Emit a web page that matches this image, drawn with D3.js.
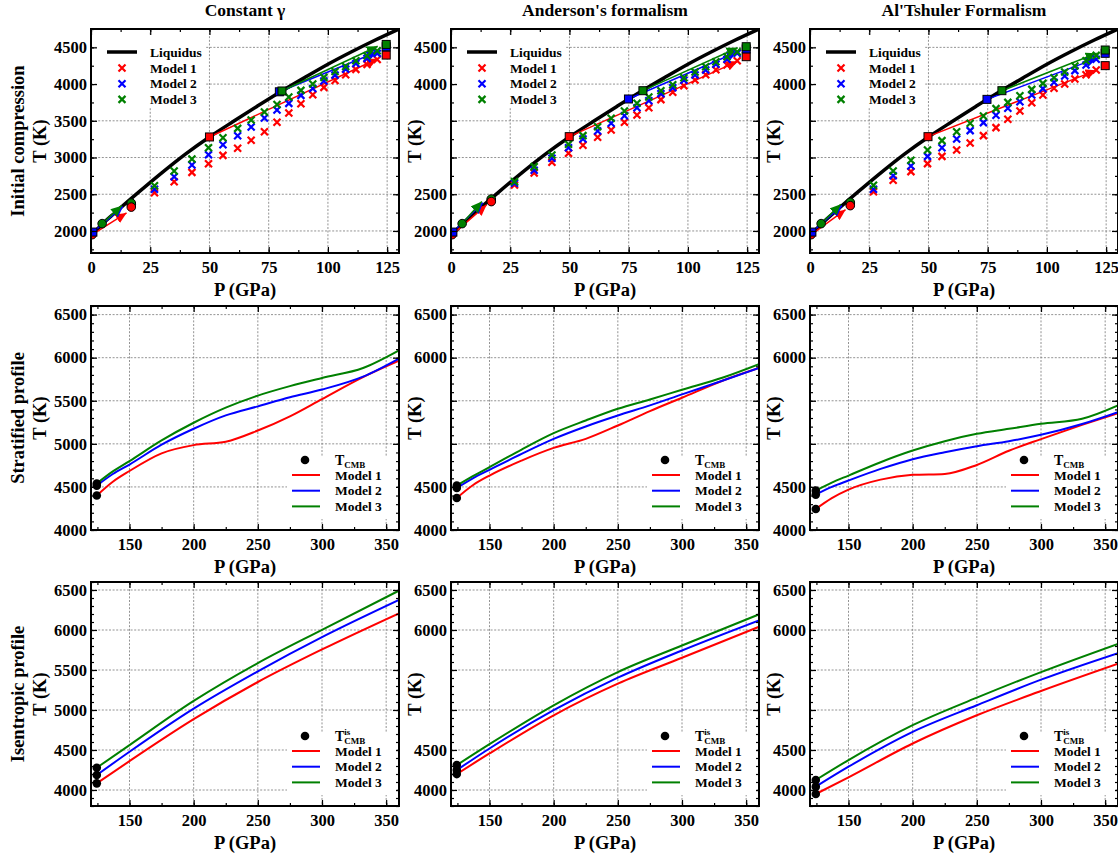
<!DOCTYPE html>
<html>
<head>
<meta charset="utf-8">
<script src="https://cdn.jsdelivr.net/npm/d3@7"></script>
<style>
  body { margin: 0; background: #fff; }
  svg, svg text { font-family: "Liberation Serif", "Times New Roman", serif; font-weight: bold; }
  svg text { fill: #000; }
</style>
</head>
<body>
<svg id="chart" width="1118" height="859" font-family="Liberation Serif"></svg>
<script>
// ---- data ----
const colTitles = ['Constant γ', "Anderson's formalism", "Al'Tshuler Formalism"];
const rowNames = ['Initial compression', 'Stratified profile', 'Isentropic profile'];
const modelNames = ['Model 1', 'Model 2', 'Model 3'];
const modelColors = ['#ff0000', '#0000ff', '#008000'];

const xTicksTop = [0, 25, 50, 75, 100, 125];
const xTicksLow = [150, 200, 250, 300, 350];
const yTicksTop = [2000, 2500, 3000, 3500, 4000, 4500];
const yTicksLow = [4000, 4500, 5000, 5500, 6000, 6500];
const yShownTop = [2000, 2500, 4000, 4500];
const yShownLow = [4000, 4500, 6000, 6500];

// liquidus (same in every column)
const liquidusP = [0, 5, 10, 20, 30, 40, 50, 60, 70, 80, 90, 100, 110, 120, 130];
const liquidusT = [1930, 2100, 2245, 2525, 2795, 3050, 3280, 3490, 3695, 3895, 4085, 4270, 4440, 4600, 4750];

// x markers of the compression runs
const crossP = [26.8, 35.1, 42.6, 49.6, 55.7, 61.9, 67.6, 73.2, 78.5, 83.5, 88.6, 93.6, 98.3, 103, 107.5, 111.8, 116.5, 120.8];
const crossConst = [
  [2521, 2671, 2798, 2916, 3029, 3125, 3234, 3351, 3479, 3605, 3732, 3855, 3955, 4050, 4127, 4200, 4268, 4336],
  [2567, 2739, 2898, 3038, 3174, 3297, 3415, 3537, 3646, 3737, 3846, 3941, 4041, 4122, 4204, 4281, 4350, 4418],
  [2617, 2816, 2980, 3134, 3270, 3397, 3510, 3619, 3723, 3823, 3914, 4000, 4091, 4172, 4240, 4317, 4385, 4453]
];
const crossAnderson = [
  [2626, 2790, 2935, 3057, 3166, 3275, 3375, 3479, 3579, 3679, 3788, 3888, 3978, 4056, 4128, 4196, 4260, 4319],
  [2649, 2826, 2989, 3134, 3252, 3361, 3466, 3570, 3679, 3774, 3870, 3951, 4051, 4124, 4192, 4269, 4337, 4419],
  [2672, 2876, 3035, 3180, 3298, 3420, 3534, 3633, 3738, 3824, 3910, 3992, 4087, 4164, 4237, 4305, 4373, 4441]
];
const crossAltshuler = [
  [2535, 2690, 2808, 2917, 3016, 3103, 3198, 3298, 3407, 3520, 3634, 3747, 3851, 3942, 4001, 4069, 4128, 4192],
  [2567, 2753, 2885, 3016, 3134, 3252, 3366, 3475, 3575, 3670, 3760, 3851, 3938, 4024, 4110, 4183, 4260, 4337],
  [2622, 2817, 2962, 3103, 3230, 3352, 3466, 3566, 3666, 3751, 3842, 3928, 4010, 4087, 4164, 4246, 4319, 4391]
];

// start points (per model) and arrows
const startP = [0.5, 0.8, 4.7];
const startT = [1950, 1985, 2100];
const tip1P = [15, 13.5, 13];
const tip1T = [[2245, 2330, 2345], [2355, 2385, 2400], [2290, 2345, 2365]];
const midP = 17;
const midT = [[2325, 2360, 2380], [2400, 2420, 2435], [2345, 2370, 2390]];
const liqSqP = [[50, 79.5, 80.6], [49.9, 74.9, 81], [49.8, 74.7, 81]];
const liqSqT = [[3280, 3895, 3906], [3284, 3797, 3910], [3284, 3792, 3910]];
const tip2P = 121;
const tip2T = [[4345, 4440, 4515], [4310, 4440, 4495], [4190, 4350, 4420]];
const finalP = 124.6;
const finalT = [[4395, 4508, 4540], [4373, 4478, 4509], [4251, 4419, 4464]];

// stratified profiles
const strP = [124.5, 137, 150, 175, 200, 225, 250, 275, 300, 332, 360];
const strConst = [
  [4400, 4560, 4685, 4890, 4985, 5025, 5155, 5320, 5520, 5775, 5965],
  [4515, 4650, 4760, 4990, 5175, 5330, 5435, 5540, 5630, 5780, 5990],
  [4540, 4680, 4800, 5040, 5245, 5420, 5560, 5670, 5765, 5880, 6085]
];
const strAnderson = [
  [4372, 4520, 4632, 4806, 4953, 5058, 5213, 5380, 5535, 5735, 5880],
  [4488, 4600, 4698, 4884, 5058, 5202, 5329, 5446, 5574, 5735, 5880],
  [4515, 4625, 4729, 4934, 5124, 5271, 5407, 5515, 5628, 5770, 5925]
];
const strAltshuler = [
  [4244, 4370, 4469, 4585, 4640, 4651, 4755, 4920, 5055, 5220, 5357],
  [4411, 4500, 4574, 4709, 4822, 4903, 4973, 5031, 5105, 5230, 5368],
  [4457, 4550, 4632, 4787, 4922, 5031, 5116, 5174, 5233, 5291, 5446]
];

// isentropic profiles
const isenP = [124.5, 150, 200, 250, 300, 360];
const isenConst = [
  [4083, 4361, 4885, 5350, 5757, 6209],
  [4187, 4478, 5017, 5483, 5910, 6375],
  [4278, 4561, 5113, 5586, 6002, 6492]
];
const isenAnderson = [
  [4199, 4457, 4934, 5329, 5653, 6040],
  [4249, 4519, 4997, 5404, 5744, 6120],
  [4311, 4573, 5059, 5474, 5806, 6195]
];
const isenAltshuler = [
  [3950, 4158, 4581, 4934, 5237, 5578],
  [4042, 4291, 4727, 5059, 5379, 5711],
  [4125, 4374, 4810, 5154, 5474, 5827]
];

const crossByCol = [crossConst, crossAnderson, crossAltshuler];
const strByCol = [strConst, strAnderson, strAltshuler];
const isenByCol = [isenConst, isenAnderson, isenAltshuler];

// ---- layout ----
const svg = d3.select('#chart');
const colLeft = [91, 451, 810];
const rowTop = [29, 306, 582];
const pw = 308;
const ph = 224;

const rowSpecs = [
  { xDom: [0, 130], yDom: [1700, 4750], xt: xTicksTop, yt: yTicksTop, shown: yShownTop,
    xm: d3.range(0, 131, 12.5), ym: d3.range(1750, 4751, 250) },
  { xDom: [120, 360], yDom: [4000, 6600], xt: xTicksLow, yt: yTicksLow, shown: yShownLow,
    xm: d3.range(125, 360, 25), ym: d3.range(4000, 6601, 100) },
  { xDom: [120, 360], yDom: [3800, 6600], xt: xTicksLow, yt: yTicksLow, shown: yShownLow,
    xm: d3.range(125, 360, 25), ym: d3.range(3800, 6601, 100) }
];

// arrow heads
const defs = svg.append('defs');
modelColors.forEach((c, i) => {
  defs.append('marker')
    .attr('id', `head${i}`)
    .attr('markerUnits', 'userSpaceOnUse')
    .attr('viewBox', '-11 -5 11 10')
    .attr('markerWidth', 11)
    .attr('markerHeight', 10)
    .attr('refX', 0)
    .attr('refY', 0)
    .attr('orient', 'auto')
    .append('path')
    .attr('d', 'M0,0L-11,-5L-11,5Z')
    .attr('fill', c);
});

const crossPath = 'M-3.5,-3.5L3.5,3.5M-3.5,3.5L3.5,-3.5';

const styleAxis = (sel, size) => {
  sel.select('.domain').remove();
  sel.selectAll('line').attr('stroke', '#000').attr('stroke-width', 1.2);
  sel.attr('font-size', size).attr('font-family', 'Liberation Serif');
};

const drawPanel = (row, col) => {
  const spec = rowSpecs[row];
  const g = svg.append('g').attr('transform', `translate(${colLeft[col]},${rowTop[row]})`);
  const x = d3.scaleLinear().domain(spec.xDom).range([0, pw]);
  const y = d3.scaleLinear().domain(spec.yDom).range([ph, 0]);

  defs.append('clipPath').attr('id', `clip${row}${col}`)
    .append('rect').attr('width', pw).attr('height', ph);

  // grid
  const grid = g.append('g').attr('stroke', '#777').attr('stroke-width', 0.8).attr('stroke-dasharray', '2,1.6');
  spec.xt.forEach((v) => grid.append('line').attr('x1', x(v)).attr('x2', x(v)).attr('y1', 0).attr('y2', ph));
  spec.yt.forEach((v) => grid.append('line').attr('y1', y(v)).attr('y2', y(v)).attr('x1', 0).attr('x2', pw));

  const plot = g.append('g').attr('clip-path', `url(#clip${row}${col})`);

  if (row === 0) {
    const line = d3.line().x((d) => x(d[0])).y((d) => y(d[1])).curve(d3.curveMonotoneX);
    plot.append('path')
      .attr('d', line(liquidusP.map((p, i) => [p, liquidusT[i]])))
      .attr('fill', 'none').attr('stroke', '#000').attr('stroke-width', 3.5);

    // arrows
    modelColors.forEach((c, m) => {
      plot.append('line')
        .attr('x1', x(startP[m])).attr('y1', y(startT[m]))
        .attr('x2', x(tip1P[m])).attr('y2', y(tip1T[col][m]))
        .attr('stroke', c).attr('stroke-width', 1.5)
        .attr('marker-end', `url(#head${m})`);
      plot.append('line')
        .attr('x1', x(liqSqP[col][m])).attr('y1', y(liqSqT[col][m]))
        .attr('x2', x(tip2P)).attr('y2', y(tip2T[col][m]))
        .attr('stroke', c).attr('stroke-width', 1.5)
        .attr('marker-end', `url(#head${m})`);
    });

    // crosses
    crossByCol[col].forEach((series, m) => {
      plot.append('g').selectAll('path').data(series).enter()
        .append('path')
        .attr('transform', (d, i) => `translate(${x(crossP[i])},${y(d)})`)
        .attr('d', crossPath)
        .attr('stroke', modelColors[m]).attr('stroke-width', 2.2).attr('fill', 'none');
    });

    // squares and circles
    const square = (px, py, c) => plot.append('rect')
      .attr('x', x(px) - 4).attr('y', y(py) - 4).attr('width', 8).attr('height', 8)
      .attr('fill', c).attr('stroke', '#000').attr('stroke-width', 1);
    const circle = (px, py, c) => plot.append('circle')
      .attr('cx', x(px)).attr('cy', y(py)).attr('r', 4.3)
      .attr('fill', c).attr('stroke', '#000').attr('stroke-width', 1);
    [1, 2, 0].forEach((m) => {
      circle(midP, midT[col][m], modelColors[m]);
    });
    [0, 1, 2].forEach((m) => {
      square(finalP, finalT[col][m], modelColors[m]);
    });
    [1, 0, 2].forEach((m) => {
      square(liqSqP[col][m], liqSqT[col][m], modelColors[m]);
    });
    circle(startP[0], startT[0], modelColors[0]);
    square(startP[1], startT[1], modelColors[1]);
    circle(startP[2], startT[2], modelColors[2]);
  } else {
    const px = row === 1 ? strP : isenP;
    const data = row === 1 ? strByCol[col] : isenByCol[col];
    const line = d3.line().x((d) => x(d[0])).y((d) => y(d[1])).curve(d3.curveMonotoneX);
    data.forEach((series, m) => {
      plot.append('path')
        .attr('d', line(series.map((t, i) => [px[i], t])))
        .attr('fill', 'none').attr('stroke', modelColors[m]).attr('stroke-width', 2);
    });
    data.forEach((series) => {
      plot.append('circle').attr('cx', x(px[0])).attr('cy', y(series[0])).attr('r', 4.3).attr('fill', '#000');
    });
  }

  // axes (ticks inward on every side)
  const bottom = g.append('g').attr('transform', `translate(0,${ph})`)
    .call(d3.axisBottom(x).tickValues(spec.xt).tickSize(-6).tickPadding(8));
  styleAxis(bottom, 16.5);
  styleAxis(g.append('g').attr('transform', `translate(0,${ph})`)
    .call(d3.axisBottom(x).tickValues(spec.xm).tickSize(-3).tickFormat('')), 10);
  styleAxis(g.append('g').call(d3.axisTop(x).tickValues(spec.xt).tickSize(-6).tickFormat('')), 10);
  styleAxis(g.append('g').call(d3.axisTop(x).tickValues(spec.xm).tickSize(-3).tickFormat('')), 10);

  const left = g.append('g')
    .call(d3.axisLeft(y).tickValues(spec.yt).tickSize(-6).tickPadding(4)
      .tickFormat((d) => (col === 0 || spec.shown.includes(d) ? d : '')));
  styleAxis(left, 16.5);
  styleAxis(g.append('g').call(d3.axisLeft(y).tickValues(spec.ym).tickSize(-3).tickFormat('')), 10);
  styleAxis(g.append('g').attr('transform', `translate(${pw},0)`)
    .call(d3.axisRight(y).tickValues(spec.yt).tickSize(-6).tickFormat('')), 10);
  styleAxis(g.append('g').attr('transform', `translate(${pw},0)`)
    .call(d3.axisRight(y).tickValues(spec.ym).tickSize(-3).tickFormat('')), 10);

  g.append('rect').attr('width', pw).attr('height', ph)
    .attr('fill', 'none').attr('stroke', '#000').attr('stroke-width', 2);

  // legends
  const lg = g.append('g').style('font-size', '13.5px');
  if (row === 0) {
    lg.append('rect').attr('x', 7).attr('y', 7).attr('width', 108).attr('height', 71).attr('fill', '#fff');
    lg.append('line').attr('x1', 16).attr('x2', 46).attr('y1', 23).attr('y2', 23)
      .attr('stroke', '#000').attr('stroke-width', 3.5);
    lg.append('text').attr('x', 59).attr('y', 23).attr('dy', '0.35em').text('Liquidus');
    modelNames.forEach((name, m) => {
      const ly = 39 + 15.7 * m;
      lg.append('path').attr('transform', `translate(31,${ly})`).attr('d', crossPath)
        .attr('stroke', modelColors[m]).attr('stroke-width', 2.2);
      lg.append('text').attr('x', 59).attr('y', ly).attr('dy', '0.35em').text(name);
    });
  } else {
    lg.append('rect').attr('x', pw - 112).attr('y', ph - 73).attr('width', 109).attr('height', 62).attr('fill', '#fff');
    lg.append('circle').attr('cx', pw - 94).attr('cy', ph - 70).attr('r', 4.3).attr('fill', '#000');
    const tx = pw - 64;
    const tBase = ph - 70 + 5;
    const tMain = lg.append('text').attr('x', tx).attr('y', tBase).style('font-size', '14px').text('T');
    const tw = tMain.node().getComputedTextLength();
    lg.append('text').attr('x', tx + tw).attr('y', tBase + 2.5).style('font-size', '9px').text('CMB');
    if (row === 2) {
      lg.append('text').attr('x', tx + tw).attr('y', tBase - 6).style('font-size', '9px').text('is');
    }
    modelNames.forEach((name, m) => {
      const ly = ph - 55 + 15.7 * m;
      lg.append('line').attr('x1', pw - 107).attr('x2', pw - 79).attr('y1', ly).attr('y2', ly)
        .attr('stroke', modelColors[m]).attr('stroke-width', 2);
      lg.append('text').attr('x', tx).attr('y', ly).attr('dy', '0.35em').text(name);
    });
  }

  // axis labels
  g.append('text').attr('x', pw / 2).attr('y', ph + 43).attr('text-anchor', 'middle')
    .style('font-size', '18.5px').text('P (GPa)');
  const yLines = col === 0 ? [rowNames[row], 'T (K)'] : ['T (K)'];
  const yPos = col === 0 ? [-73, -51] : [-36.5];
  yLines.forEach((txt, i) => {
    g.append('text')
      .attr('transform', `translate(${yPos[i]},${ph / 2}) rotate(-90)`)
      .attr('text-anchor', 'middle').attr('dy', '0.35em')
      .style('font-size', '18.5px').text(txt);
  });
  if (row === 0) {
    g.append('text').attr('x', pw / 2).attr('y', -13).attr('text-anchor', 'middle')
      .style('font-size', '17.5px').text(colTitles[col]);
  }
};

[0, 1, 2].forEach((r) => [0, 1, 2].forEach((c) => drawPanel(r, c)));
</script>
</body>
</html>
